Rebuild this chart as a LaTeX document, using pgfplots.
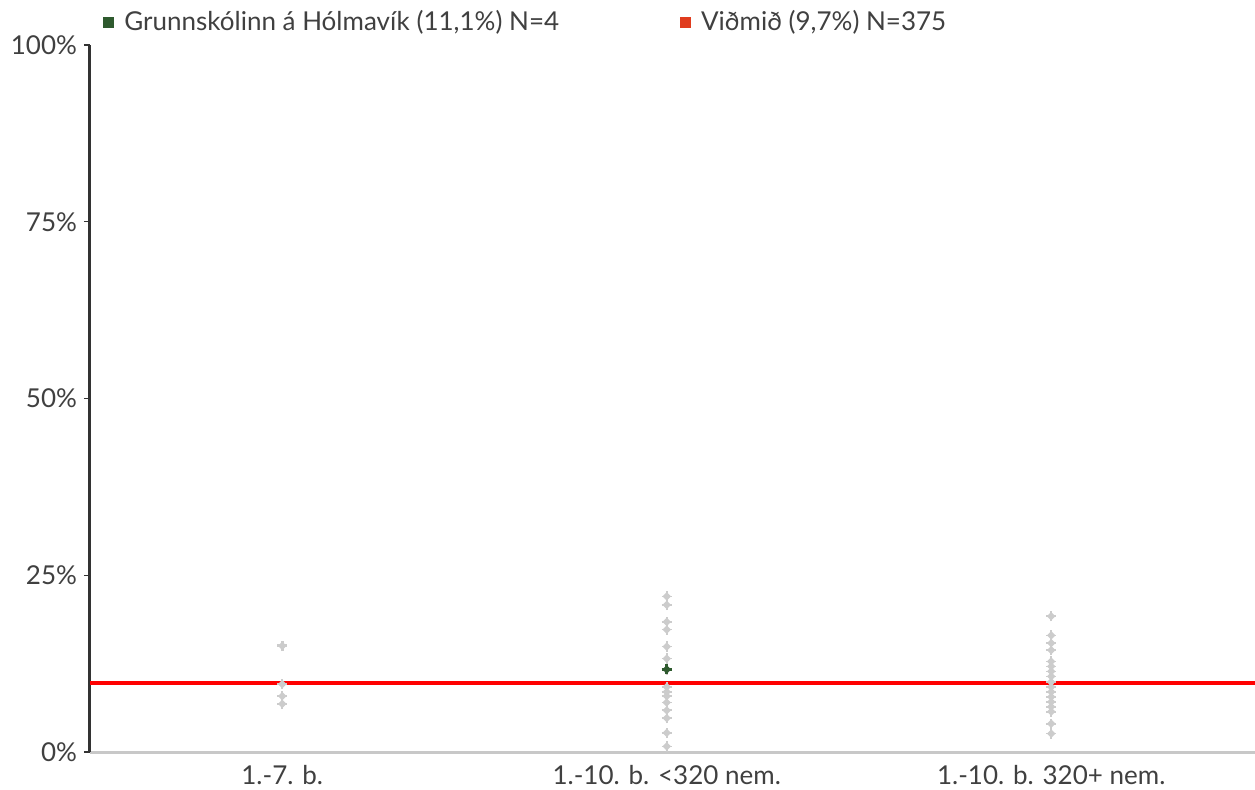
\documentclass[border=0pt]{standalone}
\usepackage{fontspec}
\setmainfont{Lato}
\usepackage{pgfplots}
\pgfplotsset{compat=1.18}
\definecolor{txt}{HTML}{404040}
\definecolor{ptgray}{HTML}{CCCCCC}
\definecolor{dgreen}{HTML}{2E5A2E}
\definecolor{legred}{HTML}{E03C1E}
\definecolor{axgray}{HTML}{C8C8C8}
\definecolor{axdark}{HTML}{333333}
\pgfdeclareplotmark{fatplus}{%
  \pgfpathmoveto{\pgfqpoint{-\pgfplotmarksize}{0pt}}%
  \pgfpathlineto{\pgfqpoint{\pgfplotmarksize}{0pt}}%
  \pgfpathmoveto{\pgfqpoint{0pt}{-\pgfplotmarksize}}%
  \pgfpathlineto{\pgfqpoint{0pt}{\pgfplotmarksize}}%
  \pgfusepathqstroke
  \pgfsetlinewidth{0.8pt}%
  \pgfpathmoveto{\pgfqpoint{-0.6\pgfplotmarksize}{0pt}}%
  \pgfpathlineto{\pgfqpoint{0pt}{0.6\pgfplotmarksize}}%
  \pgfpathlineto{\pgfqpoint{0.6\pgfplotmarksize}{0pt}}%
  \pgfpathlineto{\pgfqpoint{0pt}{-0.6\pgfplotmarksize}}%
  \pgfpathclose
  \pgfusepathqfillstroke
}
\begin{document}
\begin{tikzpicture}
\useasboundingbox (-45pt,-18.5pt) rectangle (582.5pt,376pt);
\begin{axis}[
  at={(0,0)}, anchor=south west,
  scale only axis, width=582.5pt, height=353.5pt,
  xmin=-0.5, xmax=2.53, ymin=0, ymax=100,
  axis x line*=bottom, axis y line*=left,
  every outer x axis line/.append style={axgray, line width=1.5pt},
  every inner x axis line/.append style={axgray, line width=1.5pt},
  every outer y axis line/.append style={axdark, line width=1.5pt},
  every inner y axis line/.append style={axdark, line width=1.5pt},
  xtick={0,1,2},
  xticklabels={1.-7. b., 1.-10. b. <320 nem., 1.-10. b. 320+ nem.},
  xtick style={draw=none},
  ytick={0,25,50,75,100},
  yticklabels={0\%,25\%,50\%,75\%,100\%},
  tick align=outside,
  major tick length=3pt,
  ytick style={axdark, line width=0.6pt},
  tick label style={font=\fontsize{13}{15}\selectfont, text=txt},
  clip=false,
  legend columns=2,
  legend style={at={(0,1)}, anchor=west, yshift=11.5pt, draw=none, fill=none,
    inner sep=0pt, font=\fontsize{13}{15}\selectfont, text=txt,
    /tikz/every even column/.append style={column sep=52pt}},
]
\addlegendimage{legend image code/.code={\fill[dgreen] (6.5pt,-2.5pt) rectangle (11.5pt,2.5pt); \path[draw=none] (0pt,0pt) -- (15pt,0pt);}}
\addlegendentry{Grunnskólinn á Hólmavík (11,1\%) N=4}
\addlegendimage{legend image code/.code={\fill[legred] (6.5pt,-2.5pt) rectangle (11.5pt,2.5pt); \path[draw=none] (0pt,0pt) -- (15pt,0pt);}}
\addlegendentry{Viðmið (9,7\%) N=375}

\addplot[red, line width=2pt, forget plot] coordinates {(-0.5,9.7) (2.53,9.7)};

\addplot[only marks, mark=fatplus, mark size=2.6pt, ptgray, line width=1.5pt, forget plot] coordinates {
(0,15.0) (0,9.6) (0,7.9) (0,6.8)
(1,22.0) (1,20.8) (1,18.4) (1,17.3) (1,14.9) (1,13.2) (1,11.6) (1,9.2) (1,8.5) (1,7.9) (1,7.0) (1,5.9) (1,4.8) (1,2.7) (1,0.8)
(2,19.2) (2,16.5) (2,15.4) (2,14.4) (2,12.8) (2,12.1) (2,11.4) (2,10.7) (2,9.9) (2,9.2) (2,8.5) (2,7.8) (2,7.1) (2,6.4) (2,5.7) (2,4.0) (2,2.6)
};
\addplot[only marks, mark=fatplus, mark size=2.6pt, dgreen, line width=1.5pt, forget plot] coordinates {(1,11.7)};
\end{axis}
\end{tikzpicture}
\end{document}
